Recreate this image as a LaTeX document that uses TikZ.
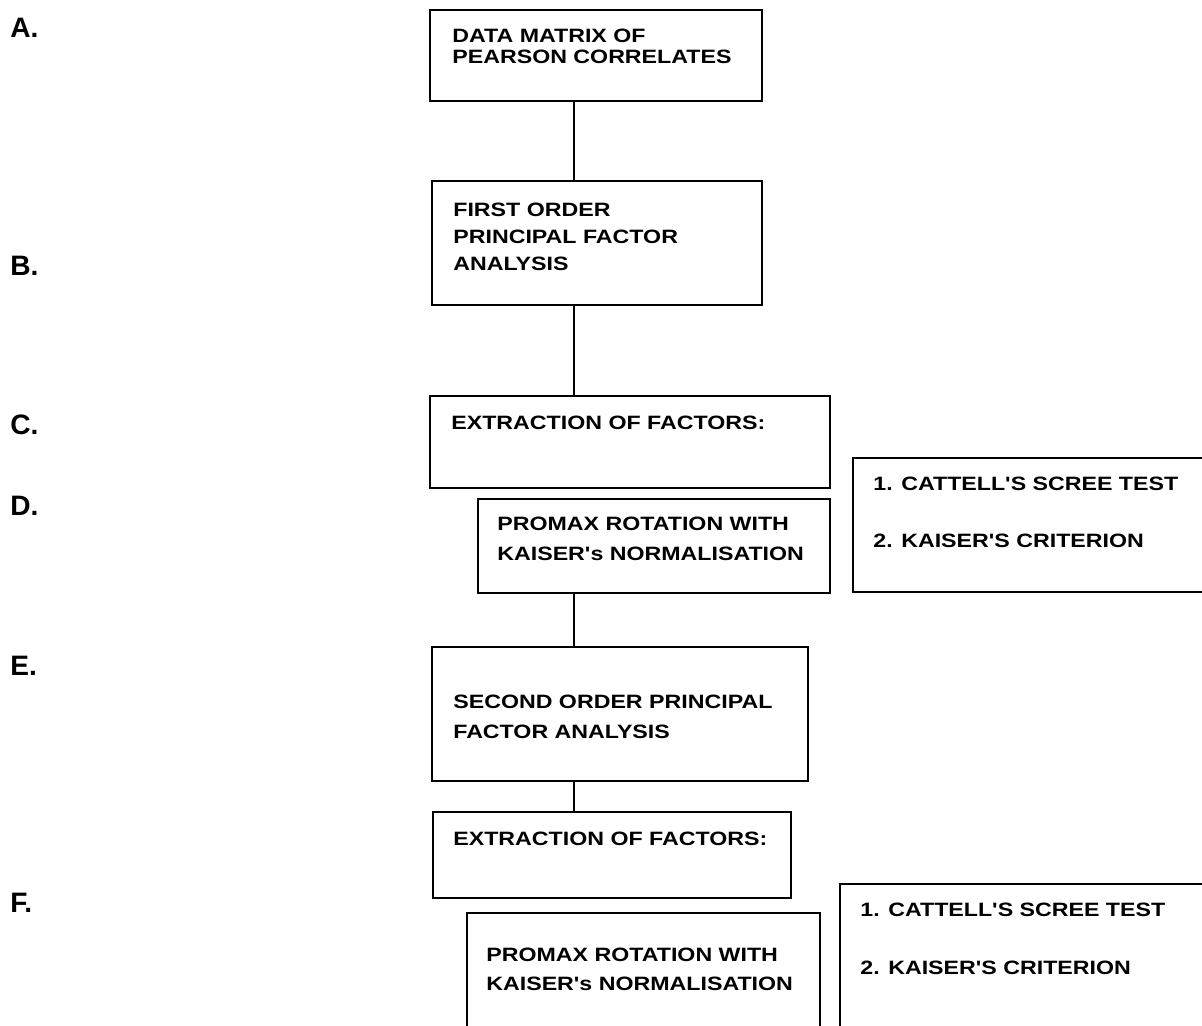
\documentclass[tikz,border=0pt]{standalone}
\usepackage{fontspec}
\setmainfont{Liberation Sans}
\newfontfamily\boxfont{Liberation Sans}[FakeStretch=1.2]
\usepackage{tikz}
\usetikzlibrary{fit}

\begin{document}
\begin{tikzpicture}[
    x=0.02cm, y=-0.02cm,
    box/.style={rectangle, draw=black, line width=0.9pt, inner sep=0pt},
    txt/.style={anchor=base west, inner sep=0pt, align=left, font=\boxfont\bfseries\fontsize{11}{12}\selectfont},
    lbl/.style={anchor=base west, inner sep=0pt, font=\bfseries\fontsize{16}{18}\selectfont},
    link/.style={draw=black, line width=0.9pt}
]
\useasboundingbox (0,0) rectangle (1202,1026);
\clip (0,0) rectangle (1202,1026);

% Step letters
\node[lbl] (la) at (10,38) {A.};
\node[lbl] (lb) at (10,276) {B.};
\node[lbl] (lc) at (10,435) {C.};
\node[lbl] (ld) at (10,515) {D.};
\node[lbl] (le) at (10,675) {E.};
\node[lbl] (lf) at (10,912) {F.};

% Boxes
\node[box, fit={(430,10) (762,101)}] (matrix) {};
\node[box, fit={(432,181) (762,305)}] (first) {};
\node[box, fit={(430,396) (830,488)}] (extract) {};
\node[box, fit={(478,499) (830,593)}] (promax) {};
\node[box, fit={(853,458) (1215,592)}] (crit) {};
\node[box, fit={(432,647) (808,781)}] (second) {};
\node[box, fit={(433,812) (791,898)}] (extract2) {};
\node[box, fit={(467,913) (820,1040)}] (promax2) {};
\node[box, fit={(840,884) (1215,1040)}] (crit2) {};

% Box texts (placed at the baseline of their last line)
\node[txt] (matrix-t) at (452,64) {DATA MATRIX OF\\PEARSON CORRELATES};
\node[txt] (first-t) at (453,271) {FIRST ORDER\\[3.4pt]PRINCIPAL FACTOR\\[3.4pt]ANALYSIS};
\node[txt] (extract-t) at (451,430) {EXTRACTION OF FACTORS:};
\node[txt] (promax-t) at (497,560) {PROMAX ROTATION WITH\\[5pt]KAISER's NORMALISATION};
\node[txt] (crit-t) at (873,547) {1. CATTELL'S SCREE TEST\\[20.3pt]2. KAISER'S CRITERION};
\node[txt] (second-t) at (453,738) {SECOND ORDER PRINCIPAL\\[5pt]FACTOR ANALYSIS};
\node[txt] (extract2-t) at (453,845) {EXTRACTION OF FACTORS:};
\node[txt] (promax2-t) at (486,990) {PROMAX ROTATION WITH\\[4pt]KAISER's NORMALISATION};
\node[txt] (crit2-t) at (860,974) {1. CATTELL'S SCREE TEST\\[21pt]2. KAISER'S CRITERION};

% Connections
\coordinate (spine) at (574,0);
\draw[link] (matrix.south -| spine) -- (first.north -| spine);
\draw[link] (first.south -| spine) -- (extract.north -| spine);
\draw[link] (promax.south -| spine) -- (second.north -| spine);
\draw[link] (second.south -| spine) -- (extract2.north -| spine);

\end{tikzpicture}
\end{document}
